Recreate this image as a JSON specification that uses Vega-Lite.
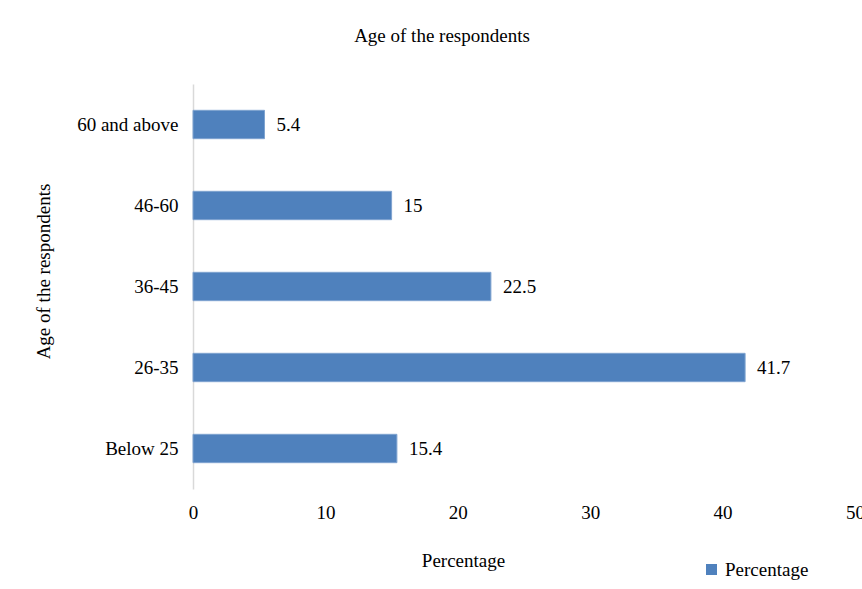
{
  "$schema": "https://vega.github.io/schema/vega-lite/v6.json",
  "width": 662,
  "height": 405,
  "autosize": {"type": "none"},
  "padding": {"left": 193, "top": 84, "right": 7, "bottom": 100},
  "background": "white",
  "title": {
    "text": "Age of the respondents",
    "anchor": "middle",
    "frame": "group",
    "dx": -82,
    "offset": 23,
    "baseline": "alphabetic",
    "font": "Liberation Serif",
    "fontSize": 19,
    "fontWeight": "normal",
    "color": "#000000"
  },
  "data": {
    "values": [
      {"age": "60 and above", "percentage": 5.4},
      {"age": "46-60", "percentage": 15},
      {"age": "36-45", "percentage": 22.5},
      {"age": "26-35", "percentage": 41.7},
      {"age": "Below 25", "percentage": 15.4}
    ]
  },
  "encoding": {
    "y": {
      "field": "age",
      "type": "nominal",
      "sort": null,
      "scale": {"paddingInner": 0.65, "paddingOuter": 0.325},
      "axis": {
        "title": "Age of the respondents",
        "titleX": -144,
        "titleY": 187,
        "titleAngle": -90,
        "titleAlign": "center",
        "titleBaseline": "alphabetic",
        "titleFont": "Liberation Serif",
        "titleFontSize": 19,
        "titleFontWeight": "normal",
        "titleColor": "#000000",
        "labelFont": "Liberation Serif",
        "labelFontSize": 19,
        "labelColor": "#000000",
        "labelPadding": 15,
        "ticks": false,
        "domainColor": "#D9D9D9",
        "domainWidth": 1.5,
        "grid": false
      }
    },
    "x": {
      "field": "percentage",
      "type": "quantitative",
      "scale": {"domain": [0, 50], "nice": false},
      "axis": {
        "values": [0, 10, 20, 30, 40, 50],
        "title": "Percentage",
        "titleX": 270,
        "titleY": 77,
        "titleAlign": "center",
        "titleBaseline": "alphabetic",
        "titleFont": "Liberation Serif",
        "titleFontSize": 19,
        "titleFontWeight": "normal",
        "titleColor": "#000000",
        "labelFont": "Liberation Serif",
        "labelFontSize": 19,
        "labelColor": "#000000",
        "labelBaseline": "alphabetic",
        "labelPadding": 29,
        "labelFlush": false,
        "ticks": false,
        "domain": false,
        "grid": false
      }
    }
  },
  "layer": [
    {
      "mark": {"type": "bar", "stroke": "#7FA3D0", "strokeWidth": 1},
      "encoding": {
        "color": {
          "datum": "Percentage",
          "scale": {"range": ["#4F81BD"]},
          "legend": {
            "title": null,
            "orient": "none",
            "legendX": 509,
            "legendY": 476,
            "symbolType": "square",
            "symbolSize": 121,
            "symbolStrokeWidth": 0,
            "labelFont": "Liberation Serif",
            "labelFontSize": 19,
            "labelColor": "#000000",
            "labelOffset": 4
          }
        }
      }
    },
    {
      "mark": {
        "type": "text",
        "align": "left",
        "baseline": "middle",
        "dx": 12,
        "font": "Liberation Serif",
        "fontSize": 19,
        "color": "#000000"
      },
      "encoding": {
        "text": {"field": "percentage", "type": "quantitative"}
      }
    }
  ],
  "config": {
    "font": "Liberation Serif",
    "view": {"stroke": null},
    "axis": {"labelFont": "Liberation Serif", "titleFont": "Liberation Serif"},
    "legend": {"labelFont": "Liberation Serif"},
    "text": {"font": "Liberation Serif"}
  }
}
